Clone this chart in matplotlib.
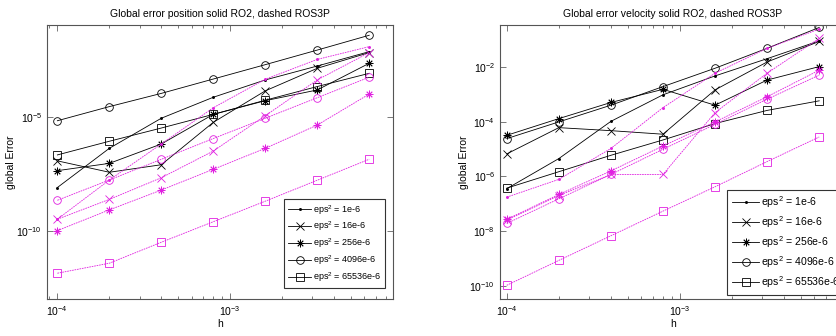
import numpy as np
import matplotlib
matplotlib.use('Agg')
import matplotlib.pyplot as plt
from matplotlib.ticker import FixedLocator, LogFormatterMathtext, NullLocator, LogLocator

plt.rcParams['font.family'] = ['Liberation Sans', 'DejaVu Sans']
plt.rcParams['mathtext.fontset'] = 'custom'
plt.rcParams['mathtext.rm'] = 'Liberation Sans'
plt.rcParams['mathtext.it'] = 'Liberation Sans'

# step sizes
h = np.array([1e-4, 2e-4, 4e-4, 8e-4, 1.6e-3, 3.2e-3, 6.4e-3])

labels = ["eps$^2$ = 1e-6", "eps$^2$ = 16e-6", "eps$^2$ = 256e-6",
          "eps$^2$ = 4096e-6", "eps$^2$ = 65536e-6"]
markers = ['.', 'x', (8, 2, 0), 'o', 's']

# log10 of global error, position (solid RO2)
pos_ro2 = [
    [-8.11, -6.39, -5.07, -4.15, -3.39, -2.78, -2.15],
    [-6.94, -7.44, -7.11, -5.25, -3.87, -2.88, -2.19],
    [-7.37, -7.05, -6.20, -4.90, -4.30, -3.83, -2.66],
    [-5.18, -4.56, -3.98, -3.35, -2.72, -2.08, -1.43],
    [-6.68, -6.08, -5.50, -4.90, -4.28, -3.68, -3.10],
]
# position (dashed ROS3P)
pos_ros3p = [
    [-9.50, -7.78, -6.20, -4.61, -3.36, -2.49, -1.93],
    [-9.50, -8.63, -7.68, -6.51, -4.96, -3.39, -2.19],
    [-10.00, -9.09, -8.22, -7.31, -6.39, -5.37, -4.01],
    [-8.67, -7.78, -6.87, -5.96, -5.07, -4.17, -3.27],
    [-11.87, -11.43, -10.51, -9.61, -8.71, -7.79, -6.87],
]
# velocity (solid RO2)
vel_ro2 = [
    [-6.45, -5.35, -3.99, -3.02, -2.33, -1.70, -1.05],
    [-5.18, -4.22, -4.33, -4.46, -2.84, -1.82, -1.07],
    [-4.50, -3.89, -3.30, -2.82, -3.40, -2.48, -1.99],
    [-4.62, -4.01, -3.40, -2.72, -2.05, -1.32, -0.56],
    [-6.43, -5.83, -5.23, -4.67, -4.07, -3.59, -3.24],
]
# velocity (dashed ROS3P)
vel_ros3p = [
    [-6.76, -6.11, -4.98, -3.49, -2.23, -1.32, -0.62],
    [-7.60, -6.70, -5.93, -5.93, -3.67, -2.23, -0.96],
    [-7.57, -6.66, -5.80, -4.89, -4.01, -3.09, -2.12],
    [-7.72, -6.82, -5.93, -5.01, -4.10, -3.18, -2.30],
    [-9.98, -9.07, -8.17, -7.27, -6.38, -5.46, -4.56],
]

fig = plt.figure(figsize=(8.36, 3.36), dpi=100)
ax1 = fig.add_axes([47/836, 37/336, 346/836, 274/336])
ax2 = fig.add_axes([500/836, 37/336, 346/836, 274/336])

def draw(ax, solid, dashed, title, xlim, ylim, yticks, legfs, anchor, lsp):
    handles = []
    for i in range(5):
        ln, = ax.plot(h, 10.0**np.array(solid[i]), color='black', lw=0.6,
                      marker=markers[i], ms=5.5 if i != 0 else 3,
                      mfc='none' if i in (3, 4) else 'black', mew=0.6)
        handles.append(ln)
    for i in range(5):
        ax.plot(h, 10.0**np.array(dashed[i]), color='#e020e0', lw=0.6,
                dashes=(2, 1), marker=markers[i], ms=5.5 if i != 0 else 3,
                mfc='none' if i in (3, 4) else '#e020e0', mew=0.6)
    ax.set_xscale('log')
    ax.set_yscale('log')
    ax.set_xlim(*xlim)
    ax.set_ylim(*ylim)
    ax.yaxis.set_major_locator(FixedLocator(yticks))
    ax.yaxis.set_major_formatter(LogFormatterMathtext())
    ax.yaxis.set_minor_locator(NullLocator())
    ax.xaxis.set_major_locator(FixedLocator([1e-4, 1e-3]))
    ax.xaxis.set_major_formatter(LogFormatterMathtext())
    ax.xaxis.set_minor_locator(LogLocator(base=10, subs=np.arange(2, 10)))
    ax.tick_params(which='both', direction='in', top=True, right=True,
                   labelsize=7.5, color='#444444')
    ax.tick_params(which='major', length=4, width=0.5)
    ax.tick_params(which='minor', length=2, width=0.5)
    for s in ax.spines.values():
        s.set_color('#555555')
        s.set_linewidth(0.8)
    ax.set_title(title, fontsize=7.5, pad=6)
    ax.set_xlabel('h', fontsize=7.5, labelpad=1)
    ax.set_ylabel('global Error', fontsize=7.5, labelpad=0)
    leg = ax.legend(handles, labels, loc='lower right', bbox_to_anchor=anchor,
                    fontsize=legfs, fancybox=False, framealpha=1,
                    edgecolor='#333333', handlelength=2.6, handletextpad=0.15,
                    borderaxespad=0, labelspacing=lsp, borderpad=0.45)
    leg.get_frame().set_linewidth(0.8)

draw(ax1, pos_ro2, pos_ros3p, 'Global error position solid RO2, dashed ROS3P',
     (10**-4.06, 10**-2.056), (1e-13, 10**-0.98), [1e-10, 1e-5], 6.5,
     (0.977, 0.040), 0.35)
draw(ax2, vel_ro2, vel_ros3p, 'Global error velocity solid RO2, dashed ROS3P',
     (10**-4.039, 10**-2.039), (10**-10.48, 10**-0.47),
     [1e-10, 1e-8, 1e-6, 1e-4, 1e-2], 7.6, (0.997, 0.015), 0.4)

fig.savefig('out.png', dpi=100)
